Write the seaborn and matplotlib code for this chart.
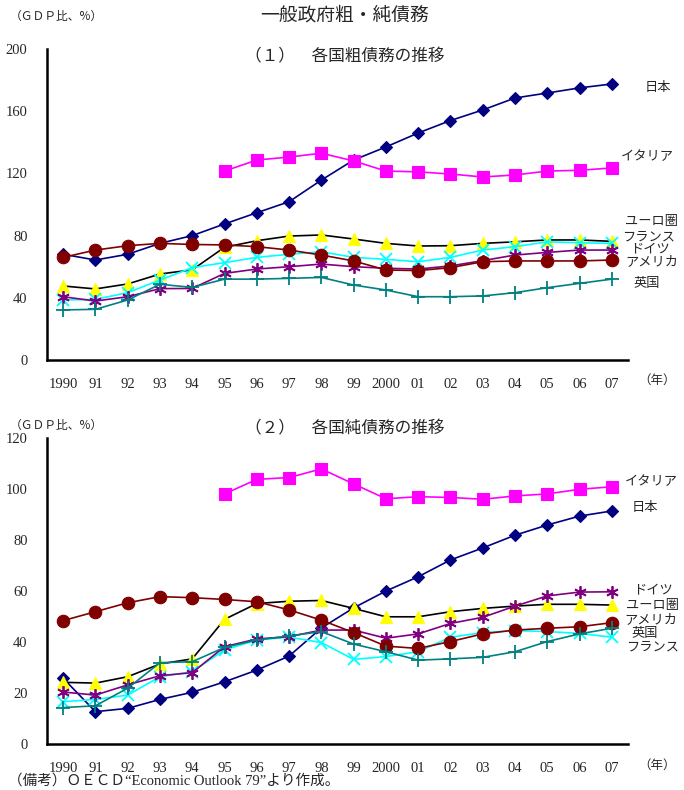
import pandas as pd
import matplotlib.pyplot as plt
import seaborn as sns
import numpy as np

# x categories
years = ['1990', '91', '92', '93', '94', '95', '96', '97', '98', '99',
         '2000', '01', '02', '03', '04', '05', '06', '07']

# (1) gross debt, % of GDP
gross_japan = [68, 64.3, 68, 75, 80, 87.5, 94.7, 101.8, 115.7, 128.6, 137, 146, 154, 160.8, 168.5, 171.7, 175, 177.5]
gross_italy = [np.nan] * 5 + [121.5, 128.6, 130.5, 133, 128, 121.5, 121, 119.6, 117.7, 119, 121.5, 122, 123.5]
gross_euro = [47.6, 45.7, 48.9, 55.3, 58, 72.5, 76.7, 79.7, 80.4, 77.8, 75, 73.3, 73.5, 75, 76, 77.2, 77.2, 76.3]
gross_france = [38.6, 39, 43.3, 51.4, 59.4, 62.6, 66, 68, 69.6, 66, 64.7, 63.2, 66, 70.7, 72.9, 76, 75.4, 75]
gross_germany = [40.7, 37.9, 40.7, 45.9, 46, 55.7, 58.5, 60, 61.7, 60, 59, 58.5, 60.5, 63.9, 67.5, 69.2, 70.7, 70.7]
gross_us = [66, 70.7, 73.5, 75, 74.3, 74, 72.9, 70.7, 67.5, 63.7, 57.9, 57.5, 59.4, 63.2, 63.7, 63.7, 63.7, 64.3]
gross_uk = [32.2, 32.6, 38.6, 48.7, 46.7, 52, 52, 52.5, 53.1, 48.2, 45, 40.7, 40.7, 41.2, 43.3, 46.5, 49.3, 52]

# (2) net debt, % of GDP
net_japan = [25.9, 12.8, 14.1, 17.6, 20.4, 24.5, 29.1, 34.6, 45.6, 53.5, 60.1, 65.7, 72.3, 77, 82, 86, 89.5, 91.5]
net_italy = [np.nan] * 5 + [98.2, 103.9, 104.6, 108, 102.1, 96.3, 97.1, 96.8, 96.1, 97.4, 98.2, 100, 101]
net_euro = [24.3, 24, 26.5, 31.5, 33.5, 49, 55.2, 56.1, 56.4, 53.3, 50, 50, 52, 53.3, 54.2, 54.9, 54.9, 54.6]
net_france = [16.7, 17.6, 19.3, 26.5, 28.5, 37, 40.9, 42, 39.9, 33.3, 34.4, 36.3, 42, 43.8, 44.6, 44.2, 43.5, 42]
net_germany = [20.5, 19.3, 23.3, 26.9, 28.1, 38.3, 41.3, 42.2, 44.8, 44.8, 41.6, 43.3, 47.4, 49.8, 54.2, 58.2, 59.7, 59.8]
net_us = [48.5, 52, 55.5, 57.9, 57.5, 56.8, 55.9, 52.7, 48.7, 43.8, 38.5, 37.6, 40.3, 43.3, 44.8, 45.5, 46.1, 47.7]
net_uk = [14.4, 15.1, 22, 32, 32.4, 38, 40.9, 42.5, 44.2, 39.3, 36.3, 33, 33.5, 34.1, 36.3, 40.3, 43.3, 45.5]

countries = ['日本', 'イタリア', 'ユーロ圏', 'フランス', 'ドイツ', 'アメリカ', '英国']

# line color, marker, marker face, marker size
styles = {
    '日本': ('#000080', 'D', '#000080', 6.5),
    'イタリア': ('#FF00FF', 's', '#FF00FF', 8),
    'ユーロ圏': ('#000000', '^', '#FFFF00', 9),
    'フランス': ('#00FFFF', 'x', '#00FFFF', 8),
    'ドイツ': ('#800080', (6, 2, 0), '#800080', 9),
    'アメリカ': ('#800000', 'o', '#800000', 9),
    '英国': ('#008080', '+', '#008080', 10),
}

def make_df(series):
    rows = []
    for c, vals in zip(countries, series):
        for i, v in enumerate(vals):
            rows.append({'x': i, 'value': v, 'country': c})
    return pd.DataFrame(rows)

gross = make_df([gross_japan, gross_italy, gross_euro, gross_france, gross_germany, gross_us, gross_uk])
net = make_df([net_japan, net_italy, net_euro, net_france, net_germany, net_us, net_uk])

sns.set_style('white')
plt.rcParams['font.family'] = ['Noto Sans CJK JP', 'DejaVu Sans']

W, H = 684, 790
fig = plt.figure(figsize=(W / 100, H / 100), dpi=100)

def px_axes(left, top, right, bottom):
    return fig.add_axes([left / W, 1 - bottom / H, (right - left) / W, (bottom - top) / H])

ax1 = px_axes(47, 49, 628, 360)
ax2 = px_axes(47, 438.3, 628, 744.3)

def draw(ax, df, ymax, ystep):
    for c in countries:
        col, mk, face, ms = styles[c]
        d = df[df['country'] == c].dropna()
        sns.lineplot(data=d, x='x', y='value', ax=ax, color=col, marker=mk,
                     markersize=ms, markerfacecolor=face, markeredgecolor=face,
                     markeredgewidth=1.3 if mk in ('x', '+') or isinstance(mk, tuple) else 0.8,
                     linewidth=1.2, legend=False, errorbar=None)
    ax.set_xlim(-0.5, len(years) - 0.5)
    ax.set_ylim(0, ymax)
    ax.set_yticks(np.arange(0, ymax + 1, ystep))
    ax.set_xticks(np.arange(len(years)))
    ax.set_xticklabels(years)
    ax.set_xticks(np.arange(0.5, len(years) - 0.5), minor=True)
    ax.tick_params(axis='x', which='major', length=0, pad=13)
    ax.tick_params(axis='x', which='minor', length=6, width=1, direction='in')
    ax.tick_params(axis='y', length=5, width=1.2, direction='in', pad=14)
    for lab in ax.get_xticklabels() + ax.get_yticklabels():
        lab.set_fontfamily('Liberation Serif')
        lab.set_fontsize(10.5)
    ax.set_xlabel('')
    ax.set_ylabel('')
    for s in ['top', 'right']:
        ax.spines[s].set_visible(False)
    for s in ['left', 'bottom']:
        ax.spines[s].set_color('black')
        ax.spines[s].set_linewidth(1.8)
    ax.set_facecolor('none')

draw(ax1, gross, 200, 40)
draw(ax2, net, 120, 20)

fs = 9.5
# right-side labels (pixel positions)
labels1 = [('日本', 645, 87), ('イタリア', 621, 157), ('ユーロ圏', 625, 222),
           ('フランス', 622, 237), ('ドイツ', 630, 249), ('アメリカ', 625, 262), ('英国', 633, 283)]
labels2 = [('イタリア', 625, 482), ('日本', 632, 508), ('ドイツ', 633, 590), ('ユーロ圏', 626, 606),
           ('アメリカ', 624, 620), ('英国', 631, 634), ('フランス', 626, 647)]
for t, x, y in labels1 + labels2:
    fig.text(x / W, 1 - y / H, t, fontsize=fs, va='center', ha='left')

fig.text(345 / W, 1 - 15 / H, '一般政府粗・純債務', fontsize=13.5, ha='center', va='center')
fig.text(10 / W, 1 - 16 / H, '（ＧＤＰ比、%）', fontsize=8.5, ha='left', va='center')
fig.text(345 / W, 1 - 57 / H, '（１）　各国粗債務の推移', fontsize=12, ha='center', va='center')
fig.text(10 / W, 1 - 425 / H, '（ＧＤＰ比、%）', fontsize=8.5, ha='left', va='center')
fig.text(345 / W, 1 - 429 / H, '（２）　各国純債務の推移', fontsize=12, ha='center', va='center')
fig.text(638 / W, 1 - 380 / H, '（年）', fontsize=9, ha='left', va='center')
fig.text(638 / W, 1 - 765 / H, '（年）', fontsize=9, ha='left', va='center')
fig.text(8 / W, 1 - 781 / H, '（備考）ＯＥＣＤ“Economic Outlook 79”より作成。', fontsize=10.5,
         ha='left', va='center', family=['Liberation Serif', 'Noto Sans CJK JP'])

fig.savefig('out.png', dpi=100)
